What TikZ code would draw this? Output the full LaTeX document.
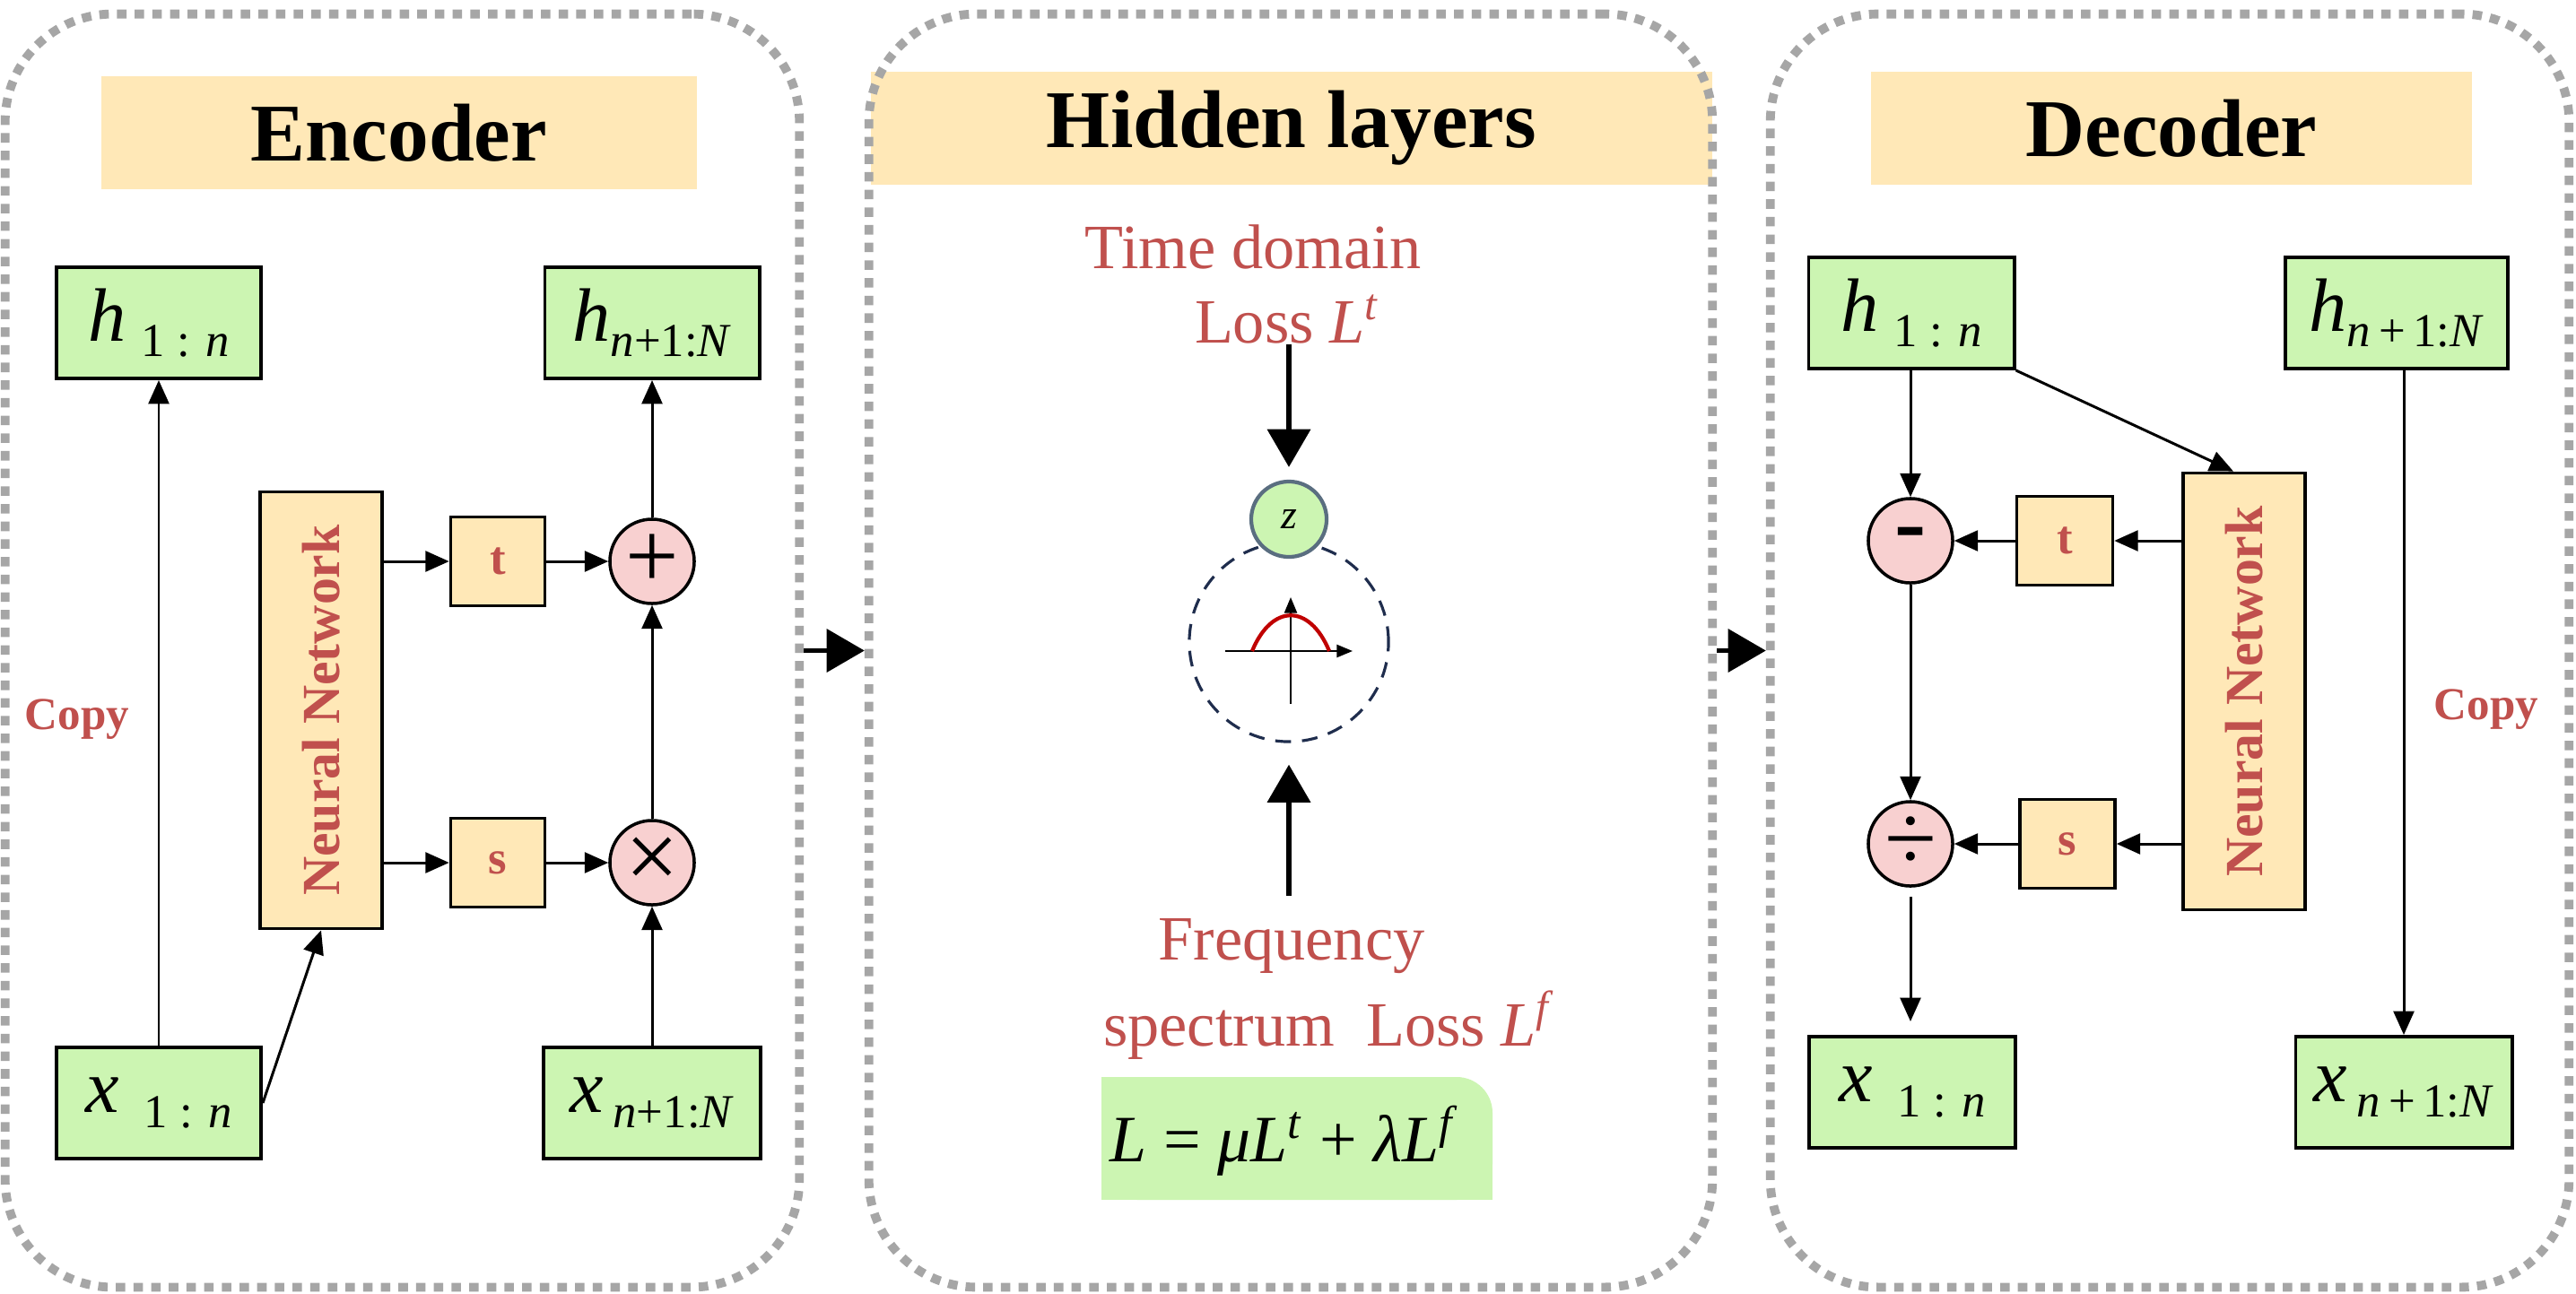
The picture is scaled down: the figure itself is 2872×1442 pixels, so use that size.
\documentclass[tikz,border=0pt]{standalone}
\usepackage{fontspec}
\setmainfont{Liberation Serif}
\usetikzlibrary{arrows.meta}

\definecolor{panelgray}{HTML}{A6A6A6}
\definecolor{titlefill}{HTML}{FFE8B7}
\definecolor{boxgreen}{HTML}{CCF5B2}
\definecolor{oppink}{HTML}{F8D0D0}
\definecolor{textred}{HTML}{C0504D}
\definecolor{ringblue}{HTML}{1F2D4D}
\definecolor{zedge}{HTML}{5A6E80}
\definecolor{curvered}{HTML}{C00000}

\newcommand{\fsz}[1]{\fontsize{#1}{#1}\selectfont}
\newcommand{\sublab}[3]{\textit{#1}\kern#3\raisebox{-5pt}{\fsz{15}#2}}

\tikzset{
	panel/.style={draw=panelgray, line width=2.8pt, dash pattern=on 3pt off 2.6pt,
			rounded corners=1.2cm, minimum height=14.19cm},
	titlebox/.style={fill=titlefill, minimum height=1.26cm, font=\fsz{26}\bfseries},
	varbox/.style={draw, line width=1.1pt, fill=boxgreen, minimum height=1.24cm, font=\fsz{24}},
	nnbox/.style={draw, line width=1pt, fill=titlefill, minimum width=1.36cm, minimum height=4.87cm},
	nntext/.style={rotate=90, text=textred, font=\fsz{17}\bfseries},
	opbox/.style={draw, line width=1pt, fill=titlefill, minimum width=1.05cm, minimum height=0.99cm,
			text=textred, font=\fsz{15}\bfseries},
	opnode/.style={circle, draw, line width=1pt, fill=oppink, minimum size=0.94cm, inner sep=0pt,
			font=\fsz{30}},
	ring/.style={circle, draw=ringblue, line width=0.9pt, dash pattern=on 5pt off 3.5pt,
			minimum size=2.22cm},
	zcirc/.style={circle, draw=zedge, line width=1.2pt, fill=boxgreen, minimum size=0.84cm,
			inner sep=0pt, font=\fsz{13}\itshape},
	flow/.style={line width=0.85pt, -{Triangle[length=7.5pt,width=6.5pt]}},
	bigflow/.style={line width=1.6pt, -{Triangle[length=12pt,width=13.5pt]}},
	redlab/.style={text=textred, font=\fsz{14.5}\bfseries},
	losslab/.style={text=textred, inner sep=0pt, font=\fsz{20}},
}

\begin{document}
\begin{tikzpicture}[x=0.01cm, y=-0.01cm]
		\useasboundingbox (0, 0) rectangle (2872, 1442);
		\fill[white] (0, 0) rectangle (2872, 1442);

		% encoder
		\node[panel, minimum width=8.85cm] (enc) at (448.5, 725.5) {};
		\node[titlebox, minimum width=6.63cm] (enctitle) at (445, 148) {Encoder};
		\node[varbox, minimum width=2.28cm] (h1enc) at (177, 360) {\sublab{h}{1 : \textit{n}}{5pt}};
		\node[varbox, minimum width=2.39cm] (h2enc) at (727, 360) {\sublab{h}{\textit{n}+1:\textit{N}}{0pt}};
		\node[varbox, minimum width=2.28cm] (x1enc) at (177, 1230) {\sublab{x}{1 : \textit{n}}{8pt}};
		\node[varbox, minimum width=2.42cm] (x2enc) at (727, 1230) {\sublab{x}{\textit{n}+1:\textit{N}}{3pt}};
		\node[nnbox] (nnenc) at (358, 792) {};
		\node[nntext] (nnenctext) at (nnenc) {Neural Network};
		\node[opbox] (tenc) at (555, 626) {t};
		\node[opbox] (senc) at (555, 962) {s};
		\node[opnode] (plus) at (727, 626) {+};
		\node[opnode] (times) at (727, 962) {×};
		\node[redlab] (copyenc) at (86, 802) {Copy};

		\draw[flow] (x1enc) -- (h1enc);
		\draw[flow] (x1enc.east) -- (nnenc.south);
		\draw[flow] (nnenc.east |- tenc) -- (tenc);
		\draw[flow] (nnenc.east |- senc) -- (senc);
		\draw[flow] (tenc) -- (plus);
		\draw[flow] (senc) -- (times);
		\draw[flow] (x2enc) -- (times);
		\draw[flow] (times) -- (plus);
		\draw[flow] (plus) -- (h2enc);

		% hidden layers
		\node[titlebox, minimum width=9.38cm] (hidtitle) at (1440, 143) {Hidden layers};
		\node[panel, minimum width=9.40cm] (hid) at (1439, 725.5) {};
		\node[losslab] (timetext) at (1397, 275) {Time domain};
		\node[losslab] (timeloss) at (1435, 356) {Loss \textit{L}\textsuperscript{\textit{t}}};
		\node[ring] (ring) at (1437, 716) {};
		\node[zcirc] (z) at (1437, 579) {z};
		\draw[line width=0.6pt, -{Triangle[length=5pt,width=4pt]}] (1366, 726) -- (1508, 726);
		\draw[line width=0.6pt, -{Triangle[length=5pt,width=4pt]}] (1439, 785) -- (1439, 666);
		\draw[curvered, line width=1.2pt] (1396, 726) .. controls (1418, 673) and (1460, 673) .. (1482, 726);
		\node[losslab] (freqtext) at (1440, 1055) {Frequency};
		\node[losslab] (freqloss) at (1482, 1143) {spectrum\ \ Loss \textit{L}\textsuperscript{\textit{f}}};

		\draw[bigflow, shorten >=0.14cm] (z.north |- timeloss.south) -- (z.north);
		\draw[bigflow, shorten <=0.25cm, shorten >=0.24cm] (ring.south |- freqtext.north) -- (ring.south);

		\fill[boxgreen, rounded corners=0.4cm] (1228, 1201) rectangle (1664, 1338);
		\fill[boxgreen] (1228, 1241) rectangle (1664, 1338);
		\fill[boxgreen] (1228, 1201) rectangle (1624, 1338);
		\node[font=\fsz{21}] (loss) at (1432, 1272)
			{\textit{L} = \textit{μL}\textsuperscript{\textit{t}} + \textit{λL}\textsuperscript{\textit{f}}};

		% decoder
		\node[panel, minimum width=8.90cm] (dec) at (2419, 725.5) {};
		\node[titlebox, minimum width=6.70cm] (dectitle) at (2421, 143) {Decoder};
		\node[varbox, minimum width=2.29cm] (h1dec) at (2131, 349) {\sublab{h}{1 : \textit{n}}{5pt}};
		\node[varbox, minimum width=2.48cm] (h2dec) at (2672, 349) {\sublab{h}{\textit{n}\,+\,1:\textit{N}}{0pt}};
		\node[opnode] (minus) at (2130, 603) {\textbf{-}};
		\node[opbox, minimum width=1.07cm] (tdec) at (2302, 603) {t};
		\node[nnbox] (nndec) at (2502, 771) {};
		\node[nntext] (nndectext) at (nndec) {Neural Network};
		\node[opnode] (divide) at (2130, 941) {÷};
		\node[opbox, minimum width=1.06cm] (sdec) at (2305, 941) {s};
		\node[varbox, minimum width=2.30cm] (x1dec) at (2132, 1218) {\sublab{x}{1 : \textit{n}}{8pt}};
		\node[varbox, minimum width=2.41cm] (x2dec) at (2680, 1218) {\sublab{x}{\textit{n}\,+\,1:\textit{N}}{3pt}};
		\node[redlab] (copydec) at (2772, 791) {Copy};

		\draw[flow] (h1dec.south -| minus) -- (minus);
		\draw[flow] (h1dec.south east) -- ([xshift=-0.12cm]nndec.north);
		\draw[flow] (nndec.west |- tdec) -- (tdec);
		\draw[flow] (tdec) -- (minus);
		\draw[flow] (nndec.west |- sdec) -- (sdec);
		\draw[flow] (sdec) -- (divide);
		\draw[flow] (minus) -- (divide);
		\draw[flow, shorten <=0.1cm, shorten >=0.15cm] (divide) -- (x1dec.north -| divide);
		\draw[flow] (x2dec.north |- h2dec.south) -- (x2dec.north);

		% between panels
		\draw[bigflow] (enc.east) -- (hid.west);
		\draw[bigflow] (hid.east) -- (dec.west);
	\end{tikzpicture}
\end{document}
